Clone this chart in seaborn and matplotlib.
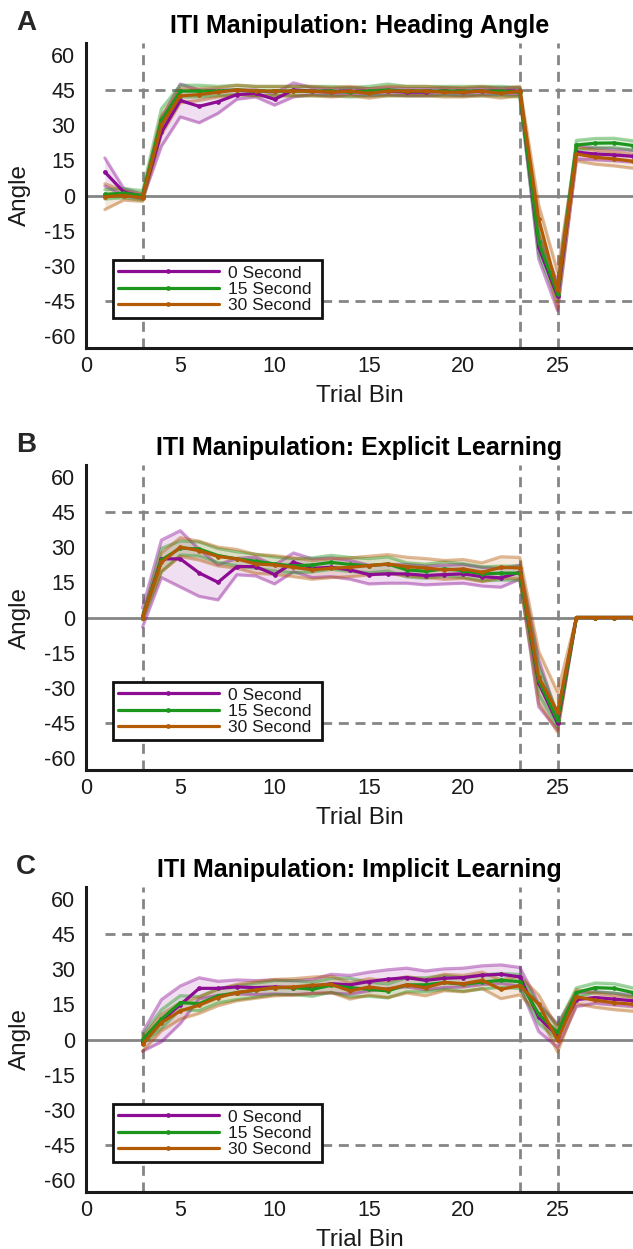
import numpy as np
import pandas as pd
import matplotlib
matplotlib.use("Agg")
import matplotlib.pyplot as plt
import seaborn as sns

# ---------------------------------------------------------------- data
bins = np.arange(1, 30)
conditions = ["0 Second", "15 Second", "30 Second"]
nan = np.nan

# Panel A: heading angle (mean and SEM per trial bin)
heading_0 = [10, 1.5, -0.5, 27, 40.5, 38, 40, 43, 43.5, 41, 45, 44.5, 44, 44.5, 44,
             44.5, 44, 44, 44.5, 44, 44.5, 44.5, 44.5, -22, -43, 18.5, 17.7, 17.3, 16.7]
heading_0_sem = [6, 1.5, 1, 6, 7, 7, 5, 2, 1.5, 2.5, 3, 1.5, 1.5, 1.5, 1.5,
                 1.5, 1.5, 1.5, 1.5, 1.5, 1.5, 1.5, 1.5, 5, 6, 3, 2.5, 2.5, 2.5]
heading_15 = [0.5, 1, 0, 32, 44.5, 44.5, 44.5, 45, 44.5, 44.5, 44.5, 44.5, 44.5, 44, 44.5,
              45, 44.5, 44.5, 44.5, 44.5, 44.5, 44.5, 44, -20, -41.8, 21.5, 22.3, 22.4, 21.3]
heading_15_sem = [2, 2, 2, 5, 2.5, 2.5, 2, 2, 2, 2, 2, 2, 2, 2, 2,
                  2.5, 2, 2, 2, 2, 2, 2, 2, 5, 3, 2, 2, 2, 2]
heading_30 = [-0.5, 0, -1, 30, 42.5, 43, 44, 45, 44.5, 44.5, 44.5, 44.5, 44, 44.5, 43.5,
              44.5, 44.5, 44.5, 44, 44, 44.5, 43.5, 44.5, -10, -40.4, 17.7, 16.3, 15.6, 14.6]
heading_30_sem = [5.5, 2, 1.5, 4, 3, 2.5, 2, 2, 2, 2, 2, 2, 2, 2, 2,
                  2, 2, 2, 2, 2, 2, 2, 2, 6, 8, 3, 3, 3, 3]

# Panel B: explicit learning
explicit_0 = [nan, nan, 0, 25, 25, 19, 15, 21.7, 21.7, 18.3, 23.5, 21, 21.4, 20.3, 18.3,
              18.6, 18.6, 17.9, 18.3, 18.6, 17.4, 16.9, 19.3, -28, -45, 0, 0, 0, 0]
explicit_0_sem = [nan, nan, 4, 8, 12, 10, 7.5, 3.5, 4, 4, 4, 4, 4, 4, 4,
                  4, 4, 4, 4, 4, 4, 4, 3, 10, 3, 0, 0, 0, 0]
explicit_15 = [nan, nan, 0, 24.5, 29.6, 29.2, 26.4, 25, 24, 22.8, 22, 22.4, 23.5, 22.6, 22.1,
               22.8, 20.3, 19.7, 20.7, 20, 18.6, 18.9, 18.9, -26.8, -43.8, 0, 0, 0, 0]
explicit_15_sem = [nan, nan, 1, 5, 3, 3, 3, 3, 3, 3, 3, 3, 3, 3, 3,
                   3, 3, 3, 3, 3, 3, 3, 3, 6, 3, 0, 0, 0, 0]
explicit_30 = [nan, nan, 0, 23.5, 30, 28.5, 26, 25, 22.8, 22.4, 21.4, 20.3, 21, 21.4, 22.1,
               22.8, 21.7, 21.1, 20.3, 20.7, 19.3, 21.4, 21.1, -25.4, -40.3, 0, 0, 0, 0]
explicit_30_sem = [nan, nan, 0.5, 4, 4, 4, 4, 4, 4, 4, 4, 4, 4, 4, 4,
                   4, 4, 4, 4, 4, 4, 4.5, 4.5, 11, 8.5, 0, 0, 0, 0]

# Panel C: implicit learning
implicit_0 = [nan, nan, -1, 8, 14.8, 21.8, 21.8, 22.4, 22.1, 22.4, 22.1, 22.6, 23.8, 23.3, 24.7,
              25.7, 26.4, 25.2, 26.1, 26.4, 27.4, 27.8, 26.7, 9.4, 1.6, 17, 17.9, 17.2, 16.5]
implicit_0_sem = [nan, nan, 4, 9, 8, 4.5, 3, 3, 3, 3, 3, 3, 4, 4, 4,
                  4, 4, 4, 4, 4, 4, 4, 4, 6, 5, 3, 2.5, 2.5, 2.5]
implicit_15 = [nan, nan, 0, 8.7, 15.7, 15.3, 18.6, 20, 21, 22.1, 22.1, 21.4, 23.1, 22.1, 21.4,
               20.7, 23.3, 23.3, 24.3, 23.5, 24.5, 25.2, 24.7, 10.8, 3, 20, 22.1, 21.8, 20]
implicit_15_sem = [nan, nan, 2, 4, 3, 3, 3, 3, 3, 3, 3, 3, 3, 4, 3,
                   3, 3, 3, 3, 3, 3, 3, 3, 4, 3, 2, 2, 2, 2]
implicit_30 = [nan, nan, -2, 7.2, 12.2, 14.6, 17.9, 20, 21.1, 22.1, 22.4, 23.1, 23.5, 20.7, 22.4,
               21.4, 23.3, 22.1, 24.3, 23.8, 25.2, 21.4, 23, 15, -0.3, 18.2, 16.7, 15.7, 15]
implicit_30_sem = [nan, nan, 3, 3.5, 3.5, 3.5, 3.5, 3.5, 3.5, 3.5, 3.5, 3.5, 3.5, 3.5, 3.5,
                   3.5, 3.5, 3.5, 3.5, 3.5, 3.5, 4, 4, 4, 5, 3, 3, 3, 3]

panel_letters = ["A", "B", "C"]
panel_titles = ["ITI Manipulation: Heading Angle",
                "ITI Manipulation: Explicit Learning",
                "ITI Manipulation: Implicit Learning"]
panel_means = [[heading_0, heading_15, heading_30],
               [explicit_0, explicit_15, explicit_30],
               [implicit_0, implicit_15, implicit_30]]
panel_sems = [[heading_0_sem, heading_15_sem, heading_30_sem],
              [explicit_0_sem, explicit_15_sem, explicit_30_sem],
              [implicit_0_sem, implicit_15_sem, implicit_30_sem]]

y_ticks = [-60, -45, -30, -15, 0, 15, 30, 45, 60]
x_ticks = [0, 5, 10, 15, 20, 25]
target_angles = [45, -45]
phase_bounds = [3, 23, 25]

# ---------------------------------------------------------------- style
sns.set_theme(style="white")
plt.rcParams["font.family"] = ["Liberation Sans", "DejaVu Sans"]
plt.rcParams["axes.unicode_minus"] = False

colors = ["#8C0C94", "#1C961C", "#B35A05"]
ref_gray = "#858585"
text_col = "#1a1a1a"
dash = (0, (3.6, 2.4))

fig = plt.figure(figsize=(6.33, 12.49), dpi=100)
W, H = 633.0, 1249.0
ax_left, ax_top0, ax_h = 86.0, 43.0, 305.0
panel_step = 422.0

for i in range(3):
    top = ax_top0 + i * panel_step
    ax = fig.add_axes([ax_left / W, 1 - (top + ax_h) / H,
                       1 - ax_left / W, ax_h / H])
    ax.set_xlim(0, 29)
    ax.set_ylim(-65, 65)

    # reference lines
    ax.axhline(0, color=ref_gray, lw=2.0, zorder=1)
    for ya in target_angles:
        ax.hlines(ya, 1, 30, colors=ref_gray, lw=2.0, linestyles=dash, zorder=1)
    for xb in phase_bounds:
        ax.axvline(xb, color=ref_gray, lw=2.0, ls=dash, zorder=1)

    # shaded SEM bands with lighter edges
    rows = []
    for cond, col, m, s in zip(conditions, colors, panel_means[i], panel_sems[i]):
        m = np.asarray(m, float)
        s = np.asarray(s, float)
        ok = ~np.isnan(m)
        lo, hi = (m - s)[ok], (m + s)[ok]
        xs = bins[ok]
        ax.fill_between(xs, lo, hi, color=col, alpha=0.13, lw=0, zorder=2)
        ax.plot(xs, lo, color=col, alpha=0.42, lw=2.3, zorder=2.5)
        ax.plot(xs, hi, color=col, alpha=0.42, lw=2.3, zorder=2.5)
        rows.append(pd.DataFrame({"bin": xs, "angle": m[ok], "condition": cond}))
    df = pd.concat(rows, ignore_index=True)

    sns.lineplot(data=df, x="bin", y="angle", hue="condition",
                 hue_order=conditions, palette=colors, estimator=None,
                 errorbar=None, marker="o", markersize=3.4, markeredgewidth=0,
                 linewidth=2.3, ax=ax, zorder=4)

    sns.move_legend(ax, "lower left", bbox_to_anchor=(0.049, 0.098, 0.382, 0.194),
                    mode="expand", title=None, frameon=True, fancybox=False,
                    fontsize=12.5, handlelength=5.8, handletextpad=0.55,
                    labelspacing=0.06, borderpad=0.3, borderaxespad=0)
    leg = ax.get_legend()
    leg.get_frame().set_edgecolor("#111111")
    leg.get_frame().set_linewidth(2.0)
    leg.get_frame().set_alpha(1)
    leg.set_zorder(6)
    for t in leg.get_texts():
        t.set_color(text_col)

    # axes decoration
    sns.despine(ax=ax)
    for side in ("left", "bottom"):
        ax.spines[side].set_linewidth(2.2)
        ax.spines[side].set_color(text_col)
    ax.set_yticks(y_ticks)
    ax.set_xticks(x_ticks)
    ax.tick_params(direction="in", length=6, width=2, colors=text_col,
                   labelsize=15.5)
    ax.tick_params(axis="y", pad=8)
    ax.tick_params(axis="x", pad=6)
    ax.set_xlabel("Trial Bin", fontsize=17.5, color=text_col)
    ax.set_ylabel("Angle", fontsize=17.5, color=text_col)
    ax.xaxis.set_label_coords(0.5, -0.12)
    ax.yaxis.set_label_coords(-0.1, 0.5)
    ax.set_title(panel_titles[i], fontsize=18, fontweight="bold", pad=7,
                 color="black")

    fig.text(26 / W, 1 - (23 + i * panel_step) / H, panel_letters[i],
             fontsize=20, fontweight="bold", ha="center", va="center")

fig.savefig("out.png", dpi=100)
